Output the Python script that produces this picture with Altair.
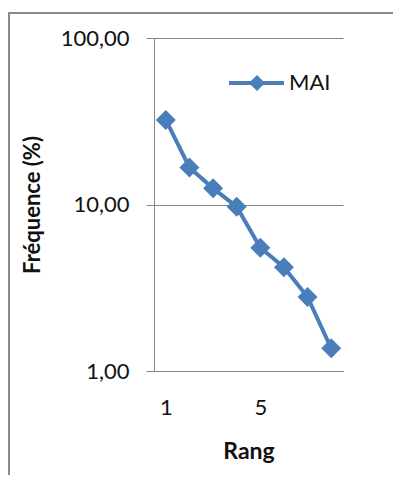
import altair as alt
import pandas as pd

rangs = [1, 2, 3, 4, 5, 6, 7, 8]
frequences = [32.2, 16.7, 12.5, 9.7, 5.5, 4.2, 2.78, 1.37]
series_name = "MAI"
y_ticks = [1, 10, 100]
x_ticks = [1, 5]

BLUE = "#4a7ebb"
GRAY = "#868686"
FONT = "Lato"

df = pd.DataFrame({"Rang": rangs, "Freq": frequences, "serie": [series_name] * len(rangs)})
leg = pd.DataFrame({"serie": [series_name]})

x_enc = alt.X(
    "Rang:Q",
    scale=alt.Scale(domain=[0.5, 8.5], nice=False, zero=False),
    axis=alt.Axis(
        values=x_ticks, ticks=False, grid=False, domainColor=GRAY, domainWidth=1,
        labelFont=FONT, labelFontSize=22, labelColor="#111111", labelPadding=26,
        title="Rang", titleFont=FONT, titleFontSize=23, titleFontWeight="bold",
        titleColor="#111111", titleY=69, titleBaseline="top",
    ),
)
y_enc = alt.Y(
    "Freq:Q",
    scale=alt.Scale(type="log", domain=[1, 100], nice=False),
    axis=alt.Axis(
        values=y_ticks, grid=True, gridColor=GRAY, gridWidth=1,
        tickColor=GRAY, tickSize=8, domainColor=GRAY, domainWidth=1,
        labelExpr="replace(format(datum.value, '.2f'), '.', ',')",
        labelFont=FONT, labelFontSize=22, labelColor="#111111", labelPadding=17,
        title="Fréquence (%)", titleFont=FONT, titleFontSize=22, titleFontWeight="bold",
        titleColor="#111111", titleX=-115, titleBaseline="alphabetic", titleAngle=270,
    ),
)

base = alt.Chart(df)
line = base.mark_line(color=BLUE, strokeWidth=4).encode(x=x_enc, y=y_enc)
pts = base.mark_point(shape="diamond", filled=True, color=BLUE, size=400, opacity=1).encode(x="Rang:Q", y="Freq:Q")

lg = alt.Chart(leg)
leg_line = lg.mark_rule(color=BLUE, strokeWidth=4).encode(x=alt.value(75), x2=alt.value(130), y=alt.value(45))
leg_pt = lg.mark_point(shape="diamond", filled=True, color=BLUE, size=260, opacity=1).encode(x=alt.value(103), y=alt.value(45))
leg_txt = lg.mark_text(align="left", baseline="middle", font=FONT, fontSize=22, color="#111111").encode(
    x=alt.value(135), y=alt.value(45), text="serie:N")

frame = lg.mark_rect(filled=False, stroke="#8a8a8a", strokeWidth=2).encode(
    x=alt.value(-145), x2=alt.value(270), y=alt.value(-25), y2=alt.value(200 + 333))

chart = alt.layer(frame, line, pts, leg_line, leg_pt, leg_txt).properties(
    width=189, height=333,
    autosize=alt.AutoSizeParams(type="none"),
    padding={"left": 146, "top": 30, "right": 50, "bottom": 104},
).configure_view(stroke=None)

chart.save("out.html", embed_options={"renderer": "svg", "actions": False})
